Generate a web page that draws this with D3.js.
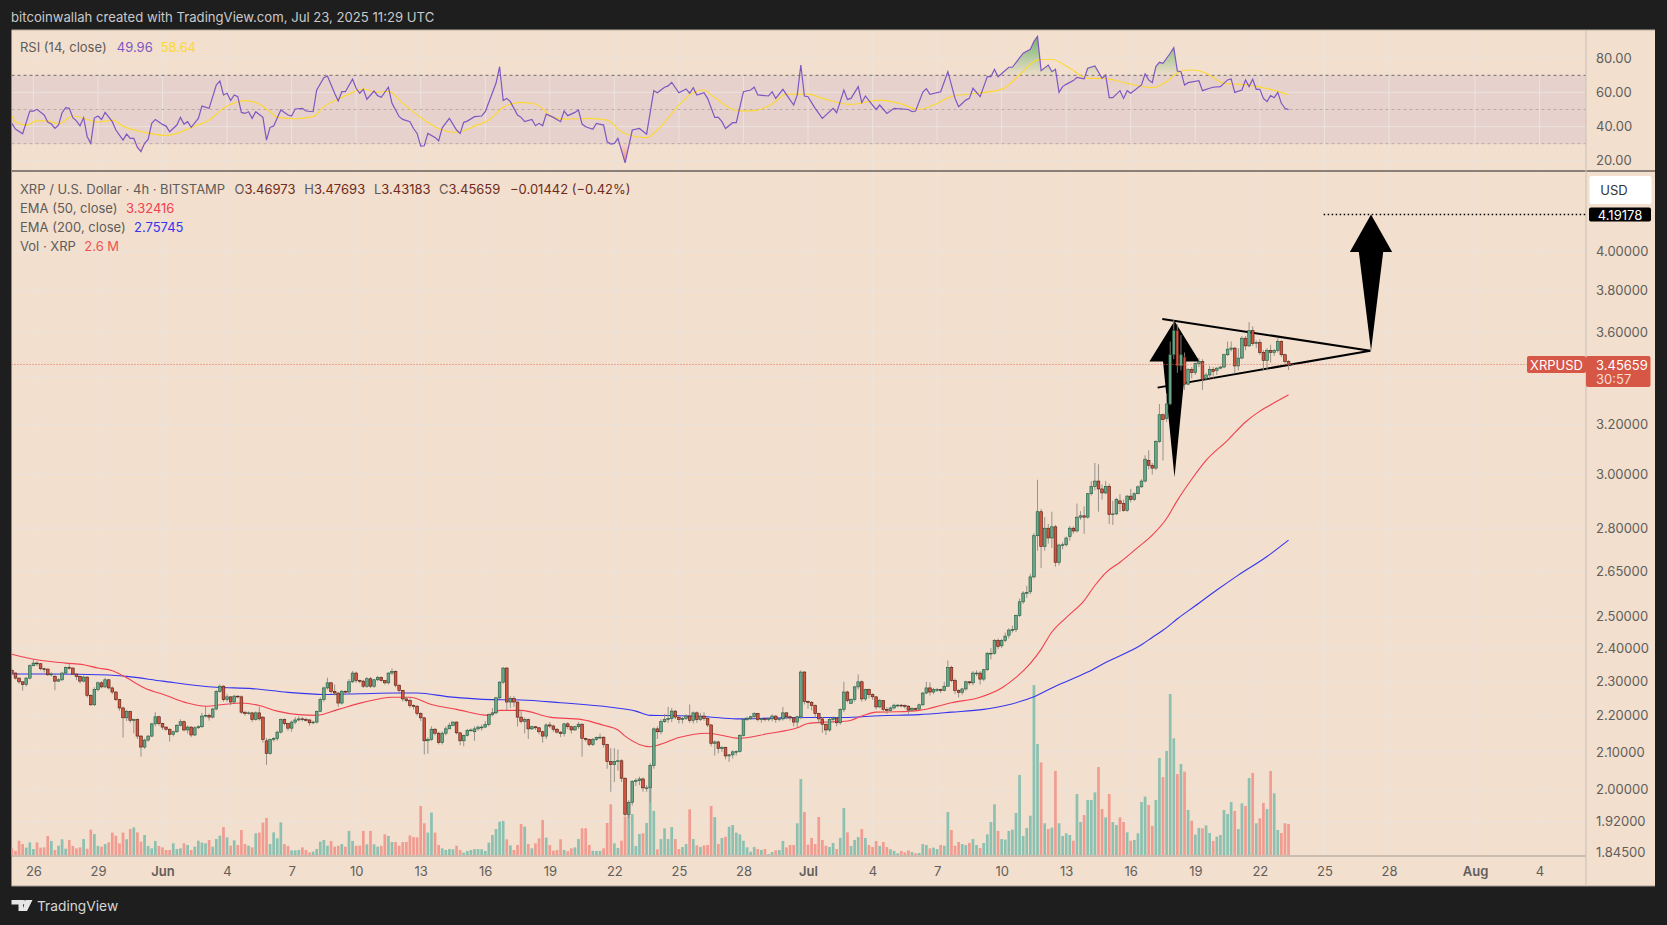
<!DOCTYPE html>
<html>
<head>
<meta charset="utf-8">
<style>
  html, body { margin: 0; padding: 0; background: #1e1e1e; }
  svg { display: block; }
  text { font-family: Inter, "Noto Sans", sans-serif; }
</style>
<script src="https://d3js.org/d3.v7.min.js"></script>
</head>
<body>
<div id="chart"></div>
<script>
// 4h bars from 2025-05-25 00:00 UTC
var barHours = 4;

var opens = [2.332,2.324,2.309,2.298,2.290,2.309,2.346,2.354,2.352,2.337,
2.336,2.319,2.314,2.300,2.304,2.324,2.341,2.339,2.321,2.314,
2.300,2.312,2.258,2.231,2.275,2.295,2.283,2.304,2.280,2.268,
2.246,2.222,2.194,2.212,2.187,2.189,2.143,2.113,2.132,2.143,
2.177,2.197,2.178,2.168,2.162,2.148,2.155,2.173,2.183,2.160,
2.168,2.146,2.166,2.169,2.199,2.201,2.196,2.219,2.270,2.285,
2.246,2.254,2.239,2.256,2.254,2.210,2.206,2.208,2.189,2.208,
2.196,2.130,2.096,2.134,2.136,2.154,2.189,2.178,2.165,2.182,
2.188,2.191,2.189,2.188,2.180,2.182,2.212,2.246,2.280,2.295,
2.270,2.265,2.236,2.270,2.268,2.298,2.324,2.302,2.300,2.285,
2.307,2.285,2.304,2.311,2.302,2.295,2.324,2.329,2.288,2.273,
2.248,2.243,2.229,2.227,2.206,2.194,2.130,2.134,2.162,2.151,
2.125,2.151,2.163,2.173,2.182,2.152,2.130,2.145,2.159,2.155,
2.163,2.168,2.168,2.175,2.203,2.208,2.251,2.297,2.339,2.239,
2.249,2.239,2.196,2.184,2.189,2.163,2.169,2.166,2.155,2.143,
2.174,2.171,2.162,2.154,2.150,2.177,2.169,2.160,2.169,2.176,
2.137,2.134,2.120,2.134,2.139,2.140,2.120,2.074,2.066,2.074,
2.076,2.030,1.938,1.968,2.022,2.024,2.028,2.005,2.005,2.063,
2.163,2.155,2.183,2.189,2.192,2.213,2.196,2.189,2.192,2.199,
2.187,2.208,2.189,2.199,2.192,2.174,2.123,2.127,2.109,2.112,
2.089,2.092,2.100,2.101,2.145,2.189,2.193,2.197,2.206,2.189,
2.191,2.189,2.191,2.199,2.189,2.191,2.208,2.197,2.194,2.182,
2.197,2.327,2.241,2.238,2.229,2.206,2.191,2.176,2.160,2.189,
2.193,2.180,2.218,2.268,2.235,2.246,2.283,2.298,2.248,2.275,
2.261,2.254,2.225,2.243,2.218,2.215,2.222,2.230,2.230,2.229,
2.227,2.216,2.220,2.219,2.231,2.265,2.280,2.268,2.275,2.275,
2.272,2.285,2.341,2.302,2.273,2.267,2.277,2.298,2.295,2.324,
2.324,2.306,2.334,2.384,2.384,2.424,2.407,2.424,2.440,2.456,
2.458,2.503,2.547,2.576,2.580,2.630,2.773,2.860,2.735,2.800,
2.765,2.805,2.680,2.740,2.741,2.770,2.800,2.790,2.840,2.845,
2.840,2.927,2.955,2.975,2.945,2.930,2.955,2.850,2.852,2.900,
2.890,2.865,2.918,2.905,2.927,2.953,2.975,3.055,3.036,3.025,
3.130,3.240,3.225,3.285,3.500,3.610,3.450,3.490,3.370,3.435,
3.420,3.460,3.470,3.395,3.410,3.435,3.430,3.440,3.445,3.500,
3.525,3.530,3.450,3.485,3.575,3.540,3.610,3.555,3.555,3.510,
3.475,3.520,3.510,3.520,3.560,3.500,3.46973];

var highs = [2.338,2.326,2.311,2.300,2.312,2.350,2.364,2.360,2.354,2.340,
2.337,2.326,2.322,2.309,2.328,2.344,2.352,2.341,2.323,2.316,
2.316,2.314,2.262,2.282,2.299,2.300,2.310,2.306,2.284,2.270,
2.248,2.226,2.217,2.214,2.192,2.192,2.146,2.136,2.146,2.180,
2.210,2.200,2.180,2.170,2.164,2.158,2.176,2.190,2.186,2.172,
2.170,2.170,2.173,2.208,2.228,2.206,2.222,2.273,2.290,2.288,
2.262,2.255,2.260,2.258,2.258,2.212,2.212,2.210,2.212,2.226,
2.198,2.138,2.136,2.140,2.158,2.192,2.192,2.180,2.186,2.196,
2.198,2.196,2.194,2.190,2.186,2.215,2.252,2.284,2.310,2.298,
2.290,2.268,2.274,2.273,2.306,2.330,2.328,2.304,2.303,2.312,
2.312,2.306,2.316,2.314,2.303,2.326,2.338,2.332,2.290,2.274,
2.254,2.250,2.232,2.230,2.210,2.196,2.140,2.170,2.165,2.155,
2.156,2.170,2.180,2.184,2.184,2.154,2.147,2.163,2.164,2.170,
2.172,2.175,2.185,2.206,2.222,2.254,2.300,2.342,2.342,2.256,
2.256,2.240,2.215,2.195,2.192,2.172,2.170,2.168,2.158,2.178,
2.182,2.175,2.165,2.157,2.180,2.182,2.172,2.172,2.182,2.178,
2.138,2.136,2.138,2.142,2.150,2.142,2.122,2.110,2.110,2.106,
2.080,2.032,1.974,2.025,2.030,2.034,2.032,2.012,2.070,2.167,
2.170,2.190,2.205,2.225,2.222,2.216,2.196,2.196,2.204,2.232,
2.212,2.212,2.208,2.210,2.196,2.176,2.131,2.130,2.116,2.114,
2.094,2.104,2.104,2.148,2.193,2.197,2.200,2.210,2.208,2.194,
2.192,2.194,2.204,2.201,2.196,2.225,2.210,2.200,2.196,2.200,
2.332,2.330,2.244,2.242,2.232,2.208,2.196,2.178,2.193,2.198,
2.196,2.222,2.298,2.272,2.250,2.286,2.320,2.302,2.278,2.278,
2.264,2.256,2.248,2.245,2.224,2.226,2.234,2.233,2.233,2.232,
2.230,2.224,2.223,2.234,2.268,2.298,2.296,2.280,2.280,2.278,
2.298,2.362,2.346,2.308,2.276,2.280,2.301,2.300,2.330,2.332,
2.330,2.337,2.388,2.400,2.428,2.430,2.428,2.448,2.462,2.470,
2.506,2.558,2.582,2.600,2.640,2.782,2.980,2.870,2.840,2.815,
2.860,2.812,2.745,2.750,2.770,2.808,2.806,2.890,2.862,2.880,
2.930,2.975,3.045,3.040,2.962,2.975,2.965,2.900,2.912,2.925,
2.905,2.922,2.945,2.932,2.958,2.982,3.075,3.095,3.045,3.135,
3.285,3.245,3.330,3.560,3.660,3.640,3.590,3.510,3.440,3.445,
3.465,3.485,3.480,3.420,3.450,3.445,3.445,3.450,3.505,3.560,
3.560,3.535,3.530,3.585,3.585,3.650,3.630,3.565,3.570,3.520,
3.530,3.545,3.525,3.575,3.565,3.505,3.47693];

var lows = [2.318,2.305,2.292,2.272,2.284,2.305,2.344,2.345,2.332,2.326,
2.315,2.314,2.273,2.298,2.300,2.322,2.334,2.318,2.303,2.293,
2.296,2.252,2.228,2.228,2.270,2.279,2.280,2.276,2.262,2.242,
2.214,2.139,2.185,2.180,2.150,2.135,2.087,2.108,2.128,2.140,
2.170,2.172,2.160,2.158,2.128,2.142,2.152,2.170,2.156,2.150,
2.140,2.143,2.163,2.165,2.195,2.186,2.192,2.215,2.266,2.240,
2.240,2.230,2.236,2.250,2.205,2.200,2.203,2.182,2.186,2.186,
2.125,2.065,2.092,2.128,2.130,2.150,2.172,2.158,2.155,2.176,
2.184,2.184,2.183,2.172,2.176,2.178,2.210,2.240,2.275,2.262,
2.258,2.225,2.232,2.262,2.262,2.295,2.295,2.294,2.280,2.280,
2.280,2.280,2.300,2.298,2.290,2.290,2.318,2.282,2.262,2.240,
2.238,2.222,2.218,2.200,2.185,2.093,2.095,2.130,2.145,2.120,
2.120,2.145,2.165,2.170,2.148,2.118,2.115,2.142,2.155,2.130,
2.158,2.158,2.165,2.170,2.198,2.204,2.248,2.292,2.215,2.222,
2.225,2.170,2.178,2.150,2.135,2.160,2.160,2.148,2.125,2.135,
2.165,2.155,2.150,2.140,2.142,2.162,2.150,2.158,2.163,2.087,
2.128,2.115,2.116,2.130,2.134,2.112,2.055,1.995,2.020,2.050,
2.020,1.933,1.928,1.960,2.010,2.012,1.995,1.995,1.968,2.055,
2.135,2.148,2.180,2.180,2.182,2.190,2.178,2.178,2.188,2.180,
2.178,2.180,2.185,2.186,2.168,2.115,2.090,2.096,2.100,2.080,
2.073,2.082,2.090,2.098,2.142,2.185,2.188,2.192,2.184,2.180,
2.184,2.184,2.184,2.180,2.184,2.186,2.190,2.186,2.170,2.165,
2.190,2.232,2.220,2.215,2.195,2.178,2.152,2.146,2.155,2.180,
2.170,2.175,2.210,2.238,2.236,2.240,2.275,2.240,2.242,2.250,
2.245,2.218,2.222,2.212,2.205,2.212,2.218,2.224,2.224,2.220,
2.205,2.212,2.213,2.216,2.228,2.262,2.258,2.262,2.268,2.265,
2.270,2.285,2.298,2.262,2.252,2.260,2.272,2.288,2.288,2.315,
2.290,2.300,2.330,2.365,2.380,2.396,2.400,2.418,2.430,2.448,
2.450,2.498,2.540,2.560,2.572,2.625,2.720,2.660,2.720,2.745,
2.730,2.665,2.670,2.725,2.735,2.755,2.780,2.785,2.830,2.780,
2.835,2.920,2.940,2.860,2.905,2.925,2.815,2.812,2.848,2.860,
2.860,2.860,2.895,2.900,2.925,2.950,2.970,3.020,3.000,3.018,
3.125,3.055,3.210,3.280,3.480,3.420,3.430,3.345,3.365,3.395,
3.410,3.445,3.345,3.385,3.395,3.395,3.410,3.435,3.440,3.495,
3.515,3.415,3.430,3.480,3.520,3.535,3.540,3.530,3.500,3.430,
3.430,3.465,3.495,3.510,3.490,3.460,3.43183];

var closes = [2.324,2.309,2.298,2.290,2.309,2.346,2.354,2.352,2.337,2.336,
2.319,2.321,2.300,2.304,2.324,2.341,2.339,2.321,2.314,2.300,
2.312,2.258,2.231,2.275,2.295,2.283,2.304,2.280,2.268,2.246,
2.222,2.194,2.212,2.187,2.189,2.143,2.113,2.132,2.143,2.177,
2.197,2.178,2.168,2.162,2.148,2.155,2.173,2.183,2.160,2.168,
2.146,2.166,2.169,2.199,2.201,2.196,2.219,2.270,2.285,2.246,
2.254,2.239,2.256,2.254,2.210,2.206,2.208,2.189,2.208,2.191,
2.134,2.096,2.134,2.136,2.154,2.189,2.178,2.165,2.182,2.188,
2.191,2.189,2.188,2.180,2.182,2.212,2.246,2.280,2.295,2.270,
2.265,2.236,2.270,2.268,2.298,2.324,2.302,2.300,2.285,2.307,
2.285,2.304,2.311,2.302,2.295,2.324,2.329,2.288,2.273,2.248,
2.243,2.229,2.227,2.206,2.194,2.130,2.134,2.162,2.151,2.125,
2.151,2.163,2.173,2.182,2.152,2.130,2.145,2.159,2.160,2.163,
2.168,2.168,2.175,2.203,2.208,2.251,2.297,2.339,2.239,2.249,
2.239,2.196,2.184,2.189,2.163,2.169,2.166,2.155,2.143,2.174,
2.171,2.162,2.154,2.150,2.177,2.169,2.160,2.169,2.176,2.137,
2.134,2.120,2.134,2.139,2.140,2.120,2.074,2.066,2.074,2.076,
2.030,1.938,1.968,2.022,2.024,2.028,2.005,2.005,2.063,2.163,
2.155,2.183,2.189,2.192,2.213,2.196,2.189,2.192,2.199,2.187,
2.208,2.189,2.199,2.192,2.174,2.123,2.127,2.109,2.112,2.089,
2.092,2.100,2.101,2.145,2.189,2.193,2.197,2.206,2.189,2.191,
2.189,2.191,2.199,2.189,2.191,2.208,2.197,2.194,2.182,2.197,
2.327,2.241,2.238,2.229,2.206,2.191,2.176,2.160,2.189,2.193,
2.180,2.218,2.268,2.244,2.246,2.283,2.298,2.248,2.275,2.261,
2.254,2.225,2.243,2.218,2.215,2.222,2.230,2.230,2.229,2.227,
2.216,2.220,2.219,2.231,2.265,2.280,2.268,2.275,2.275,2.272,
2.285,2.341,2.302,2.273,2.267,2.277,2.298,2.295,2.324,2.324,
2.306,2.334,2.384,2.384,2.424,2.405,2.424,2.437,2.456,2.458,
2.503,2.547,2.576,2.578,2.630,2.773,2.860,2.735,2.800,2.765,
2.805,2.680,2.740,2.741,2.765,2.800,2.790,2.840,2.845,2.840,
2.927,2.955,2.975,2.945,2.930,2.955,2.850,2.852,2.905,2.890,
2.865,2.918,2.905,2.927,2.953,2.975,3.060,3.036,3.025,3.130,
3.240,3.220,3.285,3.500,3.610,3.450,3.500,3.370,3.435,3.420,
3.460,3.470,3.390,3.410,3.435,3.425,3.440,3.445,3.500,3.525,
3.530,3.450,3.485,3.575,3.540,3.610,3.550,3.555,3.510,3.475,
3.520,3.510,3.520,3.560,3.500,3.470,3.45659];

// volume in millions of XRP
var volumes = [.56,.34,1.20,.92,.62,1.06,.50,1.06,.62,.64,
1.60,1.18,.42,.78,1.32,.53,1.26,.76,.56,.64,
1.34,.53,2.13,1.76,.76,.70,.92,1.06,1.88,1.62,
.98,1.88,1.32,2.18,2.32,1.90,1.12,1.68,.76,.56,
1.18,.76,.64,.42,.42,.98,.50,.56,.98,.84,
.42,.70,1.20,1.04,.98,1.26,.70,1.34,1.62,2.35,
1.48,.78,1.23,.84,2.10,.92,.78,.64,1.82,1.88,
2.72,3.11,.92,1.90,1.40,2.74,.92,.76,.39,.39,
.42,.64,.42,.22,.28,.50,1.12,1.26,.78,1.18,
.70,.78,.92,.70,2.02,1.18,.78,.78,2.02,.90,
2.02,.90,.70,.76,1.74,1.60,1.09,1.09,.78,1.09,
1.09,1.65,1.51,1.48,4.12,2.66,1.88,3.56,1.88,.84,
.56,.42,.50,.48,.78,.42,.20,.34,.42,.50,
.50,.48,.34,1.04,1.68,2.18,2.80,2.86,1.32,.81,
.42,.84,2.60,2.38,.92,.56,.98,1.40,2.94,1.46,
.84,.36,.42,1.32,.42,.31,.56,.64,1.34,2.24,
2.24,.84,.36,.34,.34,.56,2.69,4.26,.98,.59,
1.20,3.22,3.44,3.44,.76,1.76,1.82,2.69,5.60,3.70,
.48,1.34,2.24,1.34,2.35,1.34,.50,.67,.92,3.84,
1.34,.81,.67,.81,.84,4.12,3.19,.92,1.43,1.54,
2.38,2.52,1.88,1.74,1.20,.64,.28,.67,.50,.42,
.50,.08,.25,.39,.42,1.18,.64,.84,.84,2.66,
6.38,3.61,.87,1.43,.92,3.19,1.26,.78,.67,1.01,
.50,1.43,3.95,1.90,.76,1.26,1.51,2.18,1.43,.84,
.67,1.18,.76,1.09,.67,.48,.34,.14,.34,.22,
.39,.25,.14,.17,.92,.84,.56,.62,.50,.84,
.78,3.61,2.10,.78,1.09,.92,.84,1.01,1.34,.84,
.59,1.01,1.74,2.77,4.26,2.02,1.34,1.29,2.02,2.13,
3.53,6.72,1.60,2.27,3.30,14.28,9.32,7.78,2.66,2.18,
2.30,7.06,2.66,1.60,1.82,1.68,1.20,5.12,2.77,3.36,
4.62,4.62,5.26,7.39,3.86,3.16,5.12,2.77,2.52,3.16,
2.77,1.90,1.20,1.26,1.82,4.45,4.90,4.20,2.44,4.62,
8.15,6.55,8.74,13.52,9.80,6.80,7.64,7.00,3.78,2.88,
1.71,2.27,2.24,2.49,1.85,1.18,1.54,1.68,3.78,3.44,
4.45,3.70,2.18,4.34,4.12,6.47,6.89,2.66,3.08,4.37,
3.86,7.06,5.18,2.10,1.85,2.66,2.60];

// EMA lines, sampled at the bars where their slope changes
var ema50Bars = [0,7,15,20,24,28,31,37,43,49,54,59,64,69,74,80,85,91,98,106,111,117,124,133,136,142,150,159,165,169,171,178,180,186,194,203,211,219,222,227,233,237,241,247,253,262,270,276,280,284,287,290,294,299,302,305,309,314,318,322,325,329,333,339,344,348,352,356];
var ema50Values = [2.381,2.364,2.354,2.349,2.339,2.331,2.316,2.280,2.258,2.236,2.227,2.232,2.236,2.229,2.213,2.203,2.201,2.218,2.238,2.253,2.253,2.232,2.218,2.201,2.215,2.215,2.196,2.189,2.173,2.160,2.143,2.114,2.118,2.139,2.151,2.137,2.150,2.166,2.178,2.182,2.185,2.199,2.210,2.211,2.215,2.237,2.253,2.280,2.311,2.353,2.396,2.450,2.496,2.551,2.601,2.644,2.680,2.732,2.775,2.835,2.902,2.982,3.055,3.135,3.21,3.255,3.29,3.32416];

var ema200Bars = [0,10,27,32,42,57,67,77,87,97,107,113,122,134,142,153,167,174,178,186,194,202,212,222,232,242,253,262,271,277,285,291,300,305,315,318,322,325,330,336,342,350,356];
var ema200Values = [2.321,2.321,2.318,2.314,2.300,2.282,2.278,2.267,2.261,2.263,2.265,2.265,2.254,2.246,2.245,2.237,2.224,2.213,2.201,2.200,2.197,2.191,2.193,2.195,2.195,2.200,2.203,2.210,2.218,2.229,2.254,2.285,2.327,2.356,2.410,2.433,2.464,2.492,2.534,2.586,2.636,2.700,2.75745];

var rsiBars = [0,1,3,5,6,7,9,10,11,12,13,14,15,16,17,18,19,20,21,22,23,24,25,26,28,29,31,32,33,34,35,36,37,38,39,40,42,43,44,46,47,48,49,50,52,53,55,57,58,59,60,61,62,63,64,65,66,67,68,70,71,72,73,75,77,78,79,81,82,84,85,87,88,90,91,92,93,95,96,97,98,99,101,102,103,105,106,108,109,111,112,113,114,115,116,118,119,120,122,124,125,126,127,129,131,132,135,136,137,138,139,141,142,143,145,146,147,148,149,151,153,154,155,157,158,159,160,162,163,165,166,167,168,169,171,173,175,177,179,180,182,183,184,186,188,189,190,191,193,194,196,197,198,199,201,202,204,206,207,208,211,212,213,215,217,218,219,220,221,222,224,226,229,230,232,233,234,236,237,238,240,241,242,244,246,250,251,252,254,255,256,259,261,263,264,266,267,268,270,272,273,274,275,278,279,282,284,285,286,287,289,290,291,292,293,294,296,297,299,300,302,304,305,306,307,309,310,311,312,315,316,317,318,319,320,321,323,324,325,326,327,328,331,332,334,335,337,339,340,341,343,344,345,346,347,348,349,350,351,352,353,354,355,356];
var rsiValues = [41.9,38.6,35.8,49.1,49.1,50.1,46.8,42.7,41.5,38.9,40.9,48.1,51.1,50.7,45.2,43.4,40.5,45.2,34.1,30.2,45,46.2,44.2,48.3,42.9,38,32.1,35.6,33.1,33.1,27.8,25.3,30.2,32.5,41.9,44.2,41.3,40.3,37,40.9,45.4,41.5,42.9,39.6,44.8,52,50.7,64.3,66.7,58.5,59.5,55.2,58.5,57.5,48.3,47.7,48.7,44.8,48.7,45.4,32.1,39.5,40.3,49.7,46.8,46.2,50.3,50.7,49.1,48.7,61.4,68.6,69.6,59.5,55,60.4,60.4,67.7,62.4,59.5,61.8,56,60.8,58.1,57.1,63,53.6,45.8,44.2,42.9,38.9,36,28.6,28.8,36,33.7,31.7,39.3,44.8,38,36,42.5,43.2,45.8,46.2,48.7,65.3,75,55.2,56.5,54.6,46.8,45.4,42.9,44.2,40.5,41.9,40.5,47.3,45.4,42.9,49.1,46.4,48.3,49.7,41.5,39.9,38.4,41.9,40.9,31.1,29.8,30.2,33.1,18.8,38,38.9,35.6,61,59.8,63,63.8,65.9,59.8,62,59.5,62.8,58.5,59.8,56.5,45.4,45.4,42.9,38.9,42.3,42.3,60.4,61.4,63,58.5,57.9,60.4,56.5,61.8,55.6,52.6,58.5,76,57.9,57.5,50.7,44.8,50.7,48.1,61.4,55.9,56.5,63.4,54,57.9,52.6,50,52.6,47.7,50.7,50,48.7,49.1,60,62.2,58.9,60.4,72.1,56.5,51.6,55.5,56.5,62.4,57.5,69.2,69.2,73.5,69.2,74.7,74.7,82.9,85.2,89.7,92.7,72.7,76,72.1,73.5,60,63.4,64.7,66.9,68.8,67.9,74.1,75.5,68.2,70.2,56.9,56.9,61,56.5,61,59.5,64.4,70.8,67.3,65.7,75.1,77.6,77,82.9,86.2,72.5,72.1,64.3,65.7,66.9,61,62.4,63,63.4,67.3,67.9,60,61.4,67.3,63.4,67.7,61.8,61.8,56.5,54.6,58.1,56.9,60,53.6,50.7,49.96];

var rsiMaBars = [0,1,4,7,10,13,17,21,24,28,31,37,43,46,50,55,59,65,68,72,74,79,84,87,91,94,98,102,105,109,114,119,124,129,133,137,142,146,151,154,161,166,170,173,177,180,186,189,193,195,203,207,212,216,222,227,234,242,247,253,257,262,269,276,281,286,290,295,300,304,311,318,322,326,329,333,338,345,351,356];
var rsiMaValues = [46.2,42.9,40.9,43.4,43.4,41.5,46.2,44.2,42.7,43.8,40.3,36.6,34.8,36,39.5,43.8,50.7,55.2,54.2,48.7,45.4,44.6,45.8,51.6,56.1,59,62,60,60.8,53.6,45.4,38.9,36.6,40.3,43.8,51.3,54.2,53.2,45.4,44.4,44.8,43.8,37,34.5,33.5,38,52.6,58.5,61.4,58.5,49.1,49.3,53.2,59,59,55.9,53,55.5,53.9,50.1,52.6,57.5,59.5,61.8,70.2,79,79.4,74.1,68.2,68.2,65.3,62.8,66.3,72.5,73.1,71.2,65.3,64.3,61.8,58.64];

// tick labels
var priceTicks = [4.0,3.8,3.6,3.2,3.0,2.8,2.65,2.5,2.4,2.3,2.2,2.1,2.0,1.92,1.845];
var priceGrid = [4.0,3.8,3.6,3.4,3.2,3.0,2.8,2.65,2.5,2.4,2.3,2.2,2.1,2.0,1.92];
var rsiTicks = [80,60,40,20];
var timeTicks = ["2025-05-26","2025-05-29","2025-06-01","2025-06-04","2025-06-07","2025-06-10","2025-06-13","2025-06-16","2025-06-19","2025-06-22","2025-06-25","2025-06-28","2025-07-01","2025-07-04","2025-07-07","2025-07-10","2025-07-13","2025-07-16","2025-07-19","2025-07-22","2025-07-25","2025-07-28","2025-08-01","2025-08-04"];

// drawings on the chart: bar number (can be past the last bar), price
var trendUpper = [[320.8,3.665],[378.8,3.518]];
var trendLower = [[319.5,3.355],[378.8,3.518]];
var arrowUp1 = [[324.2,3.655],[331.2,3.47],[327.4,3.47],[324.2,2.99],[321,3.47],[317.2,3.47]];
var arrowUp2 = [[379,4.19178],[384.9,3.995],[382.4,3.995],[379,3.518],[375.6,3.995],[373.1,3.995]];
var targetLine = [[365.8,4.19178],[440,4.19178]];

var startTime = Date.UTC(2025, 4, 25);
var bars = closes.map(function(c, i) {
  return { i: i, o: opens[i], h: highs[i], l: lows[i], c: c, v: volumes[i] };
});

var width = 1667, height = 925;
var left = 11.5, right = 1586, edge = 1655;
var top0 = 30, rsiBottom = 171, priceBottom = 856, timeBottom = 886;

var x = d3.scaleUtc()
  .domain([new Date(Date.UTC(2025, 5, 1)), new Date(Date.UTC(2025, 6, 1))])
  .range([162.5, 808]);
function barX(i) { return x(new Date(startTime + i * barHours * 3600000)); }

var y = d3.scaleLog().domain([1.845, 4.19178]).range([852.5, 214.5]);
var rsiY = d3.scaleLinear().domain([30, 70]).range([143.7, 75.3]);
var volY = d3.scaleLinear().domain([0, 14.28]).range([855, 685]);

var svg = d3.select("#chart").append("svg").attr("width", width).attr("height", height);
var defs = svg.append("defs");

defs.append("clipPath").attr("id", "priceClip").append("rect")
  .attr("x", left).attr("y", rsiBottom).attr("width", right - left).attr("height", priceBottom - rsiBottom);
defs.append("clipPath").attr("id", "rsiClip").append("rect")
  .attr("x", left).attr("y", top0).attr("width", right - left).attr("height", rsiBottom - top0);
defs.append("clipPath").attr("id", "overClip").append("rect")
  .attr("x", left).attr("y", top0).attr("width", right - left).attr("height", rsiY(70) - top0);
defs.append("clipPath").attr("id", "underClip").append("rect")
  .attr("x", left).attr("y", rsiY(30)).attr("width", right - left).attr("height", rsiBottom - rsiY(30));

var overGrad = defs.append("linearGradient").attr("id", "overGrad")
  .attr("gradientUnits", "userSpaceOnUse").attr("x1", 0).attr("x2", 0).attr("y1", rsiY(92)).attr("y2", rsiY(70));
overGrad.append("stop").attr("offset", 0).attr("stop-color", "#5fae5f").attr("stop-opacity", 0.85);
overGrad.append("stop").attr("offset", 1).attr("stop-color", "#5fae5f").attr("stop-opacity", 0.03);
var underGrad = defs.append("linearGradient").attr("id", "underGrad")
  .attr("gradientUnits", "userSpaceOnUse").attr("x1", 0).attr("x2", 0).attr("y1", rsiY(30)).attr("y2", rsiY(18));
underGrad.append("stop").attr("offset", 0).attr("stop-color", "#ef5350").attr("stop-opacity", 0.03);
underGrad.append("stop").attr("offset", 1).attr("stop-color", "#ef5350").attr("stop-opacity", 0.7);

// page and panel
svg.append("rect").attr("width", width).attr("height", height).attr("fill", "#1e1e1e");
svg.append("rect").attr("x", left).attr("y", top0).attr("width", edge - left).attr("height", timeBottom - top0).attr("fill", "#f2dfce");

// RSI band
svg.append("rect").attr("x", left).attr("y", rsiY(70)).attr("width", right - left).attr("height", rsiY(30) - rsiY(70))
  .attr("fill", "#7e57c2").attr("opacity", 0.1);

// grid
var gridColor = "#ebe3dd";
var grid = svg.append("g").attr("stroke", gridColor).attr("stroke-width", 1);
grid.selectAll(".gx").data(timeTicks).enter().append("line")
  .attr("x1", function(d) { return x(new Date(d + "T00:00:00Z")); })
  .attr("x2", function(d) { return x(new Date(d + "T00:00:00Z")); })
  .attr("y1", top0).attr("y2", priceBottom);
grid.selectAll(".gy").data(priceGrid).enter().append("line")
  .attr("x1", left).attr("x2", right)
  .attr("y1", function(d) { return y(d); }).attr("y2", function(d) { return y(d); });
grid.selectAll(".gr").data(rsiTicks).enter().append("line")
  .attr("x1", left).attr("x2", right)
  .attr("y1", function(d) { return rsiY(d); }).attr("y2", function(d) { return rsiY(d); });

// RSI pane levels
[[70, "#6f6a66"], [50, "#b9aba3"], [30, "#b9aba3"]].forEach(function(l) {
  svg.append("line").attr("x1", left).attr("x2", right)
    .attr("y1", rsiY(l[0])).attr("y2", rsiY(l[0]))
    .attr("stroke", l[1]).attr("stroke-width", 1).attr("stroke-dasharray", "3 3");
});

// RSI fills and lines
var rsiPts = rsiBars.map(function(b, i) { return [b, rsiValues[i]]; });
var rsiMaPts = rsiMaBars.map(function(b, i) { return [b, rsiMaValues[i]]; });
var rsiG = svg.append("g").attr("clip-path", "url(#rsiClip)");
rsiG.append("path").datum(rsiPts).attr("clip-path", "url(#overClip)")
  .attr("fill", "url(#overGrad)")
  .attr("d", d3.area().x(function(d) { return barX(d[0]); }).y0(rsiY(70)).y1(function(d) { return rsiY(d[1]); }));
rsiG.append("path").datum(rsiPts).attr("clip-path", "url(#underClip)")
  .attr("fill", "url(#underGrad)")
  .attr("d", d3.area().x(function(d) { return barX(d[0]); }).y0(rsiY(30)).y1(function(d) { return rsiY(d[1]); }));
var rsiLine = d3.line().x(function(d) { return barX(d[0]); }).y(function(d) { return rsiY(d[1]); });
rsiG.append("path").datum(rsiMaPts).attr("fill", "none").attr("stroke", "#fdd835").attr("stroke-width", 1.2)
  .attr("d", d3.line().curve(d3.curveMonotoneX).x(function(d) { return barX(d[0]); }).y(function(d) { return rsiY(d[1]); }));
rsiG.append("path").datum(rsiPts).attr("fill", "none").attr("stroke", "#7e57c2").attr("stroke-width", 1.2)
  .attr("d", rsiLine);

// pane borders
svg.append("line").attr("x1", left).attr("x2", edge).attr("y1", top0).attr("y2", top0).attr("stroke", "#b8aca0");
svg.append("line").attr("x1", left).attr("x2", edge).attr("y1", rsiBottom).attr("y2", rsiBottom).attr("stroke", "#26221f").attr("stroke-width", 1.2);
svg.append("line").attr("x1", left).attr("x2", right).attr("y1", priceBottom).attr("y2", priceBottom).attr("stroke", "#a59c94").attr("stroke-width", 1.2);
svg.append("line").attr("x1", left).attr("x2", edge).attr("y1", timeBottom).attr("y2", timeBottom).attr("stroke", "#a59c94");
svg.append("line").attr("x1", right).attr("x2", right).attr("y1", top0).attr("y2", timeBottom).attr("stroke", "#cfc4b9").attr("stroke-width", 1.2);
svg.append("line").attr("x1", left).attr("x2", left).attr("y1", top0).attr("y2", timeBottom).attr("stroke", "#8c8680");

var main = svg.append("g").attr("clip-path", "url(#priceClip)");

// volume
main.append("g").selectAll("rect").data(bars).enter().append("rect")
  .attr("x", function(d) { return barX(d.i) - 1.35; })
  .attr("width", 2.7)
  .attr("y", function(d) { return volY(d.v); })
  .attr("height", function(d) { return volY(0) - volY(d.v); })
  .attr("fill", function(d) { return d.c >= d.o ? "#8cc1b1" : "#f19c91"; });

// hand drawings sit under the candles
var priceLine = d3.line().x(function(d) { return barX(d[0]); }).y(function(d) { return y(d[1]); });
main.append("path").attr("d", priceLine(arrowUp1) + "Z").attr("fill", "#000");
main.append("path").attr("d", priceLine(arrowUp2) + "Z").attr("fill", "#000");
main.append("path").attr("d", priceLine(trendUpper)).attr("stroke", "#000").attr("stroke-width", 2).attr("fill", "none");
main.append("path").attr("d", priceLine(trendLower)).attr("stroke", "#000").attr("stroke-width", 2).attr("fill", "none");
main.append("path").attr("d", priceLine(targetLine)).attr("stroke", "#000").attr("stroke-width", 1.5)
  .attr("stroke-dasharray", "1.5 2.5").attr("fill", "none");

// last price line
svg.append("line").attr("x1", left).attr("x2", right)
  .attr("y1", y(closes[closes.length - 1])).attr("y2", y(closes[closes.length - 1]))
  .attr("stroke", "#e0685a").attr("stroke-width", 1).attr("stroke-dasharray", "1 2");

// moving averages
var emaLine = d3.line().curve(d3.curveMonotoneX).x(function(d) { return barX(d[0]); }).y(function(d) { return y(d[1]); });
main.append("path").attr("fill", "none").attr("stroke", "#3535f0").attr("stroke-width", 1.1)
  .attr("d", emaLine(ema200Bars.map(function(b, i) { return [b, ema200Values[i]]; })));
main.append("path").attr("fill", "none").attr("stroke", "#f2404f").attr("stroke-width", 1.1)
  .attr("d", emaLine(ema50Bars.map(function(b, i) { return [b, ema50Values[i]]; })));

// candles
var candle = main.append("g").selectAll("g").data(bars).enter().append("g");
candle.append("line")
  .attr("x1", function(d) { return barX(d.i); }).attr("x2", function(d) { return barX(d.i); })
  .attr("y1", function(d) { return y(d.h); }).attr("y2", function(d) { return y(d.l); })
  .attr("stroke", "#8e8a82").attr("stroke-width", 0.9);
candle.append("rect")
  .attr("x", function(d) { return barX(d.i) - 1.35; })
  .attr("width", 2.7)
  .attr("y", function(d) { return y(Math.max(d.o, d.c)); })
  .attr("height", function(d) { return Math.max(0.8, Math.abs(y(d.o) - y(d.c))); })
  .attr("fill", function(d) { return d.c >= d.o ? "#6ba68a" : "#d4553f"; })
  .attr("stroke", function(d) { return d.c >= d.o ? "#1f5a3c" : "#4f1c12"; })
  .attr("stroke-width", 0.6);

// axes
var axisColor = "#615e5b";
function styleAxis(g) {
  g.select(".domain").remove();
  g.selectAll("text").attr("fill", axisColor).style("font-size", "13px").style("font-family", "Inter, sans-serif");
}
svg.append("g").attr("transform", "translate(" + right + ",0)")
  .call(d3.axisRight(y).tickValues(priceTicks).tickSize(0).tickPadding(10).tickFormat(d3.format(".5f")))
  .call(styleAxis);
svg.append("g").attr("transform", "translate(" + right + ",0)")
  .call(d3.axisRight(rsiY).tickValues(rsiTicks).tickSize(0).tickPadding(10).tickFormat(d3.format(".2f")))
  .call(styleAxis);
svg.append("g").attr("transform", "translate(0," + priceBottom + ")")
  .call(d3.axisBottom(x).tickValues(timeTicks.map(function(d) { return new Date(d + "T00:00:00Z"); }))
    .tickSize(0).tickPadding(11).tickFormat(function(d) {
      if (d.getUTCDate() !== 1) return d.getUTCDate();
      return d3.utcFormat("%b")(d);
    }))
  .call(styleAxis)
  .selectAll("text")
  .style("font-weight", function(d) { return d.getUTCDate() === 1 ? 600 : 400; });

// text helpers
function label(xp, yp, parts, size) {
  var t = svg.append("text").attr("x", xp).attr("y", yp).attr("dominant-baseline", "central")
    .style("font-size", (size || 13) + "px");
  parts.forEach(function(p) { t.append("tspan").attr("fill", p[1]).text(p[0]); });
  return t;
}
var gray = "#5f5c59", brown = "#6e2b20";

label(11, 17, [["bitcoinwallah created with TradingView.com, Jul 23, 2025 11:29 UTC", "#c9c9c9"]], 13.14);
label(20, 47.3, [["RSI (14, close)", gray]]);
label(116.8, 47.3, [["49.96", "#7e57c2"]]);
label(160.7, 47.3, [["58.64", "#fdd835"]]);
label(20, 189.3, [["XRP / U.S. Dollar · 4h · BITSTAMP", gray]]);
label(234.6, 189.3, [["O", gray], ["3.46973", brown]]);
label(304.3, 189.3, [["H", gray], ["3.47693", brown]]);
label(374, 189.3, [["L", gray], ["3.43183", brown]]);
label(439, 189.3, [["C", gray], ["3.45659", brown]]);
label(510, 189.3, [["−0.01442 (−0.42%)", brown]]);
label(20, 208.3, [["EMA (50, close)", gray]]);
label(126, 208.3, [["3.32416", "#f2404f"]]);
label(20, 227.3, [["EMA (200, close)", gray]]);
label(134, 227.3, [["2.75745", "#3535f0"]]);
label(20, 246.3, [["Vol · XRP", gray]]);
label(84.3, 246.3, [["2.6 M", "#ef5350"]]);

// USD button
svg.append("rect").attr("x", 1589.5).attr("y", 176).attr("width", 62).attr("height", 28).attr("rx", 2).attr("fill", "#ffffff");
label(1614, 190, [["USD", "#333333"]]).attr("text-anchor", "middle");

// target price tag
svg.append("rect").attr("x", 1589).attr("y", 207.5).attr("width", 62).attr("height", 14).attr("rx", 2).attr("fill", "#000");
label(1620, 214.8, [["4.19178", "#ffffff"]]).attr("text-anchor", "middle");

// last price tags
svg.append("rect").attr("x", 1527).attr("y", 356).attr("width", 59).attr("height", 17).attr("rx", 2).attr("fill", "#d65745");
label(1556.5, 364.5, [["XRPUSD", "#ffffff"]]).attr("text-anchor", "middle");
svg.append("rect").attr("x", 1586).attr("y", 356).attr("width", 64.5).attr("height", 31).attr("rx", 2).attr("fill", "#d65745");
label(1596, 364.5, [["3.45659", "#ffffff"]]);
label(1596, 379, [["30:57", "#f7dcd2"]]);

// footer logo and name
svg.append("path").attr("fill", "#e6e6e6")
  .attr("d", "M11.5 900H23V911H18.5V904.4H11.5Z M25.5 900H32.5L27 911H22.2Z");
svg.append("circle").attr("cx", 23.6).attr("cy", 902.2).attr("r", 2.2).attr("fill", "#e6e6e6");
label(37, 906, [["TradingView", "#d6d6d6"]], 13.75);
</script>
</body>
</html>
